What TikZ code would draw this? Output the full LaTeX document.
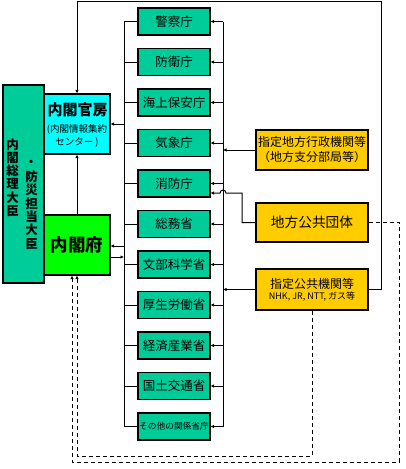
\documentclass[tikz,border=0pt]{standalone}
\usepackage{fontspec}
\setmainfont{Noto Sans CJK JP}
\usetikzlibrary{arrows.meta,calc}
\definecolor{minc}{HTML}{00CC99}
\definecolor{kanc}{HTML}{00FFFF}
\definecolor{fuc}{HTML}{00FF00}
\definecolor{yelc}{HTML}{FFCC00}
\tikzset{
  box/.style={draw=black, line width=1.2pt, inner sep=0pt, minimum width=#1, align=center},
  mbox/.style={box=72pt, fill=minc, minimum height=27pt, font=\fontsize{12.5}{13}\selectfont},
  ybox/.style={box=112pt, fill=yelc},
  ln/.style={draw=black, line width=1pt},
  tip/.style={-{Latex[length=3.5pt,width=3.5pt]}},
  dln/.style={draw=black, line width=1pt, dash pattern=on 4pt off 3pt},
}
\begin{document}
\begin{tikzpicture}[x=1pt,y=-1pt]
\useasboundingbox (0,0) rectangle (405,469);
% left big box
\node[box=41pt, fill=minc, minimum height=198pt] (pm) at (23.5,184) {};
\node[font=\fontsize{12.5}{13.2}\bfseries\selectfont, align=center, inner sep=0pt] (pmA) at (12.5,177.5) {内\\閣\\総\\理\\大\\臣};
\node[font=\fontsize{12.5}{13.3}\bfseries\selectfont, align=center, inner sep=0pt] (pmB) at (31.5,210) {防\\災\\担\\当\\大\\臣};
\node[font=\fontsize{12}{12}\bfseries\selectfont, inner sep=0pt] (pmDot) at (31,163) {・};
% kantei, naikakufu
\node[box=66pt, fill=kanc, minimum height=60pt] (kantei) at (77,124) {};
\node[font=\fontsize{15}{16}\bfseries\selectfont, inner sep=0pt] (kanteiT) at (77.5,110) {内閣官房};
\node[font=\fontsize{9.5}{13}\selectfont, align=center, inner sep=0pt] (kanteiS) at (77,136) {(内閣情報集約\\センター )};
\node[box=66pt, fill=fuc, minimum height=60pt, font=\fontsize{17.5}{20}\bfseries\selectfont] (fu) at (77,245) {内閣府};
% ministries
\node[mbox] (m1) at (174,21.5) {警察庁};
\node[mbox] (m2) at (174,62) {防衛庁};
\node[mbox] (m3) at (174,102.5) {海上保安庁};
\node[mbox] (m4) at (174,143) {気象庁};
\node[mbox] (m5) at (174,183.5) {消防庁};
\node[mbox] (m6) at (174,224) {総務省};
\node[mbox] (m7) at (174,264.5) {文部科学省};
\node[mbox] (m8) at (174,305) {厚生労働省};
\node[mbox] (m9) at (174,345.5) {経済産業省};
\node[mbox] (m10) at (174,386) {国土交通省};
\node[mbox, font=\fontsize{8.7}{10}\selectfont] (m11) at (174,426.5) {その他の関係省庁};
% yellow boxes
\node[ybox, minimum height=40pt, font=\fontsize{12}{15}\selectfont] (yg) at (312,150) {指定地方行政機関等\\（地方支分部局等）};
\node[ybox, minimum height=39pt, font=\fontsize{13.7}{15}\selectfont] (yk) at (312,222.5) {地方公共団体};
\node[ybox, minimum height=41pt, align=center] (ys) at (312,289.5) {\fontsize{12}{14}\selectfont 指定公共機関等\\[-1pt]\fontsize{9}{10}\selectfont NHK, JR, NTT, ガス等};
% bus coordinates
\coordinate (bl) at (124,0);
\coordinate (br) at (223,0);
\coordinate (top) at (0,1);
\coordinate (rx) at (381,0);
\coordinate (kx) at (242,0);
\coordinate (dR) at (399,0);
\coordinate (dB1) at (0,462);
\coordinate (dB2) at (0,456);
% left bus
\draw[ln] (bl |- m1.west) -- (bl |- m11.west);
\foreach \i in {1,...,11} { \draw[ln] (m\i.west) -- (bl |- m\i.west); }
\draw[ln, tip] (bl |- kantei.east) -- (kantei.east);
\coordinate (fuA) at ($(fu.east)+(0,1)$);
\coordinate (fuB) at ($(fu.east)+(0,12)$);
\draw[ln, tip] (bl |- fuA) -- (fuA);
\draw[ln, tip] (fuB) -- (bl |- fuB);
% right bus
\draw[ln] (br |- m1.east) -- (br |- m11.east);
\foreach \i in {1,...,11} { \draw[ln, tip] (br |- m\i.east) -- (m\i.east); }
\draw[ln, tip] (yg.west) -- (br |- yg.west);
\draw[ln, tip] (ys.west) -- (br |- ys.west);
% chiho kokyo dantai -> shobocho with hop
\coordinate (m5b) at ($(m5.east)+(0,9.5)$);
\coordinate (hopR) at ($(br |- m5b)+(3,0)$);
\draw[ln, tip] (yk.west) -- (kx |- yk.west) -- (kx |- m5b) -- (hopR) arc[start angle=0, end angle=180, radius=3pt] -- (m5b);
% shitei kokyo -> kantei top
\draw[ln, tip] (ys.east) -- (rx |- ys.east) -- (rx |- top) -- (kantei.north |- top) -- (kantei.north);
% kantei <- fu
\draw[ln, tip] (fu.north) -- (kantei.south);
% dashed lines
\coordinate (fuD1) at ($(fu.south)+(-5,0)$);
\draw[dln, tip] (yk.east) -- (dR |- yk.east) -- (dR |- dB1) -- (fuD1 |- dB1) -- (fuD1);
\draw[dln, tip] (ys.south) -- (ys.south |- dB2) -- (fu.south |- dB2) -- (fu.south);
\end{tikzpicture}
\end{document}
